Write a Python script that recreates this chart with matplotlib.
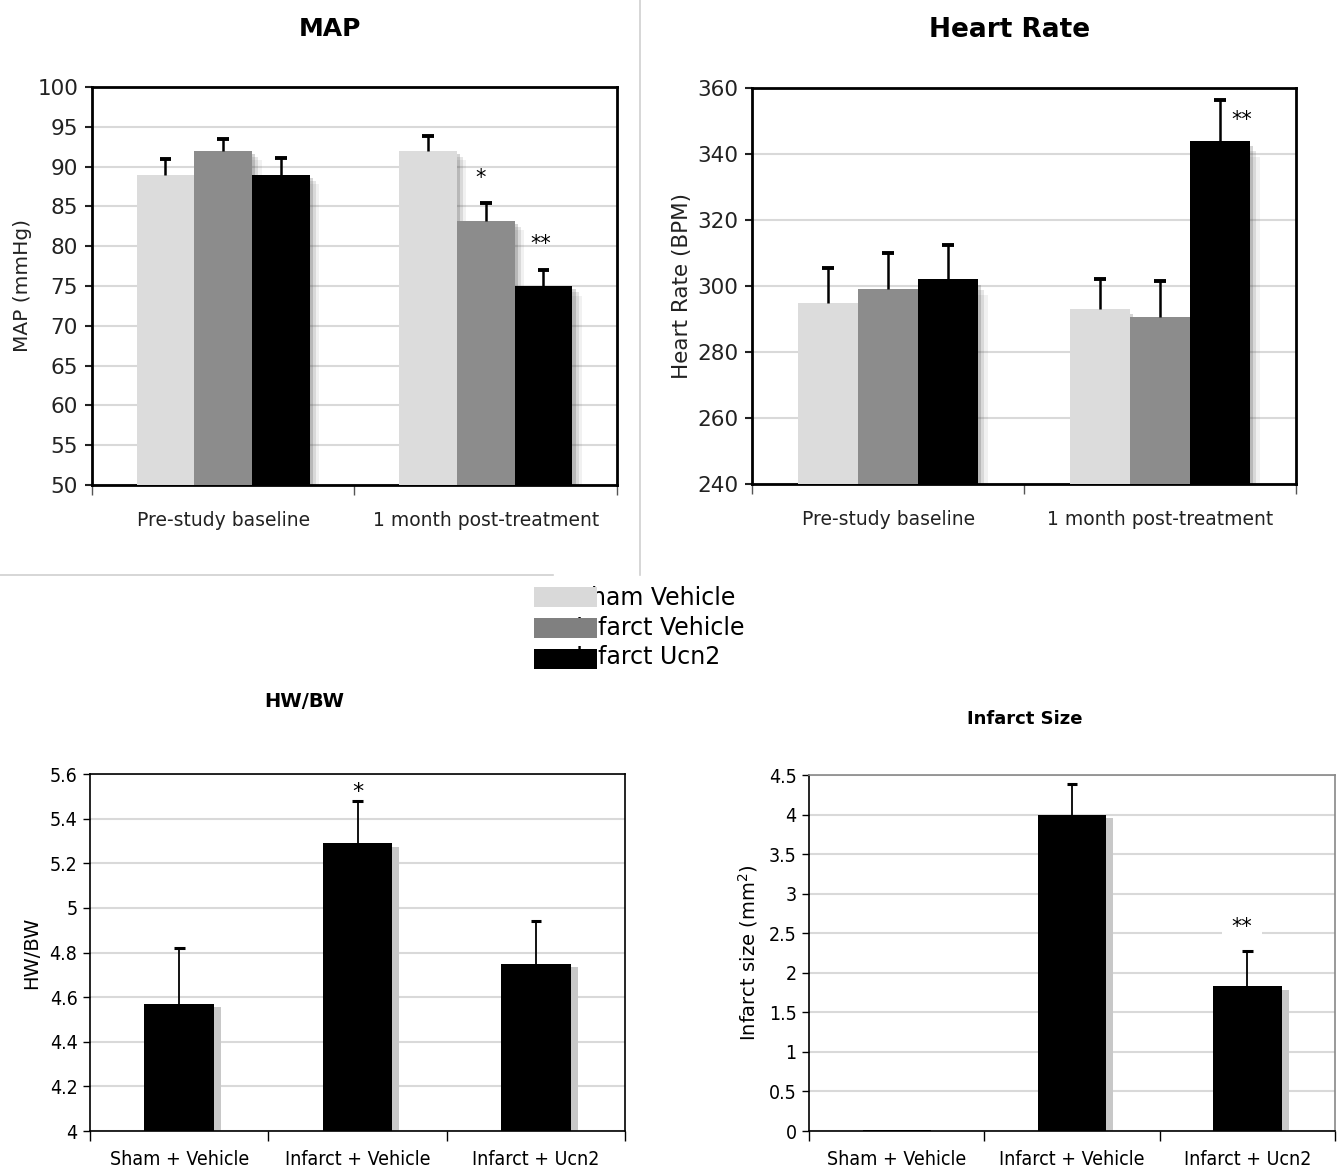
import matplotlib.pyplot as plt
from matplotlib.lines import Line2D
from matplotlib.patches import Rectangle
import numpy as np

# data
groups = ['Sham Vehicle', 'Infarct Vehicle', 'Infarct Ucn2']
colors = ['#dcdcdc', '#8c8c8c', '#000000']
timepoints = ['Pre-study baseline', '1 month post-treatment']

map_vals = [[89, 92], [92, 83.2], [89, 75]]          # per group: pre, post
map_err = [[2.0, 1.8], [1.5, 2.2], [2.1, 2.0]]
map_stars = [('*', 1, 1, -0.02, 88.6), ('**', 2, 1, -0.01, 80.3)]   # text, group, timepoint, dx, y

hr_vals = [[295, 293], [299, 290.5], [302, 344]]
hr_err = [[10.5, 9.0], [11.0, 11.0], [10.5, 12.5]]
hr_stars = [('**', 2, 1, 0.08, 350.2)]

treat_labels = ['Sham + Vehicle', 'Infarct + Vehicle', 'Infarct + Ucn2']
hwbw_vals = [4.57, 5.29, 4.75]
hwbw_err = [0.25, 0.19, 0.19]
infarct_vals = [0.01, 4.0, 1.83]
infarct_err = [0.0, 0.39, 0.44]

fig = plt.figure(figsize=(13.43, 11.74), dpi=100)


def up_errorbars(ax, x, v, e, cap, lw, cap_lw):
    v = np.asarray(v, dtype=float)
    e = np.asarray(e, dtype=float)
    keep = e > 0
    ax.vlines(x[keep], v[keep], v[keep] + e[keep], color='black', linewidth=lw, zorder=4)
    ax.hlines(v[keep] + e[keep], x[keep] - cap / 2, x[keep] + cap / 2, color='black',
              linewidth=cap_lw, zorder=4)


def grouped_panel(ax, vals, err, stars, ylim, step, title, title_x, ylabel, ylabel_size, title_size):
    width = 0.22
    x = np.arange(len(timepoints))
    for i, (v, e, c) in enumerate(zip(vals, err, colors)):
        pos = x + (i - 1) * width
        # soft drop shadow
        for k, a in enumerate([0.25, 0.15, 0.08]):
            ax.bar(pos + 0.012 * (k + 1), np.array(v) - ylim[0] - 0.4 * (k + 1) * step / 5,
                   width, bottom=ylim[0], color='#555555', alpha=a, zorder=2, linewidth=0)
        ax.bar(pos, np.array(v) - ylim[0], width, bottom=ylim[0], color=c, zorder=3)
        up_errorbars(ax, pos, v, e, 0.045, 1.8, 2.8)
    for txt, g, t, dx, y in stars:
        ax.text(t + (g - 1) * width + dx, y, txt, ha='center', va='center', fontsize=15, zorder=5)
    ax.set_xlim(-0.5, len(timepoints) - 0.5)
    ax.set_ylim(ylim)
    ax.set_yticks(np.arange(ylim[0], ylim[1] + step / 2, step))
    ax.yaxis.grid(True, color='#d9d9d9', linewidth=1.5, zorder=0)
    ax.set_axisbelow(True)
    ax.set_xticks(np.arange(-0.5, len(timepoints)))
    ax.set_xticklabels([])
    ax.set_xticks(x, minor=True)
    ax.set_xticklabels(timepoints, minor=True, fontsize=13.5, color='#222222')
    ax.tick_params(axis='x', which='minor', length=0, pad=19)
    ax.tick_params(axis='x', which='major', length=7, width=1, color='#555555')
    ax.tick_params(axis='y', labelsize=15.5, length=5, width=1.5, pad=5, colors='#222222')
    for s in ax.spines.values():
        s.set_linewidth(2)
        s.set_color('black')
    ax.set_title(title, fontsize=title_size, fontweight='bold', x=title_x, pad=37)
    ax.set_ylabel(ylabel, fontsize=ylabel_size, labelpad=4, color='#222222')


def single_panel(ax, vals, err, ylim, step, title, title_x, title_size, ylabel, title_pad):
    width = 0.39
    x = np.arange(len(treat_labels))
    ax.bar(x + 0.04, np.array(vals) - ylim[0] - 0.01 * (ylim[1] - ylim[0]), width,
           bottom=ylim[0], color='#c8c8c8', zorder=2, linewidth=0)
    ax.bar(x, np.array(vals) - ylim[0], width, bottom=ylim[0], color='black', zorder=3)
    up_errorbars(ax, x, vals, err, 0.06, 1.3, 2.2)
    ax.set_xlim(-0.5, len(treat_labels) - 0.5)
    ax.set_ylim(ylim)
    ticks = np.round(np.arange(ylim[0], ylim[1] + step / 2, step), 2)
    ax.set_yticks(ticks)
    ax.set_yticklabels(['%g' % t for t in ticks], fontstretch='condensed')
    ax.yaxis.grid(True, color='#d9d9d9', linewidth=1.5, zorder=0)
    ax.set_axisbelow(True)
    ax.set_xticks(np.arange(-0.5, len(treat_labels)))
    ax.set_xticklabels([])
    ax.set_xticks(x, minor=True)
    ax.set_xticklabels(treat_labels, minor=True, fontsize=14, fontstretch='condensed')
    ax.tick_params(axis='x', which='minor', length=0, pad=14)
    ax.tick_params(axis='x', which='major', length=7, width=1)
    ax.tick_params(axis='y', labelsize=14, length=5, width=1, pad=4)
    for s in ax.spines.values():
        s.set_linewidth(1.2)
    ax.set_title(title, fontsize=title_size, fontweight='bold', x=title_x, pad=title_pad)
    ax.set_ylabel(ylabel, fontsize=14, labelpad=6)


ax1 = fig.add_axes([0.0685, 0.5869, 0.3909, 0.3390])
grouped_panel(ax1, map_vals, map_err, map_stars, (50, 100), 5, 'MAP', 0.453,
              'MAP (mmHg)', 14.5, 18)

ax2 = fig.add_axes([0.5600, 0.5877, 0.4051, 0.3373])
grouped_panel(ax2, hr_vals, hr_err, hr_stars, (240, 360), 20, 'Heart Rate', 0.474,
              'Heart Rate (BPM)', 15.5, 19)

ax3 = fig.add_axes([0.0670, 0.0366, 0.3984, 0.3041])
single_panel(ax3, hwbw_vals, hwbw_err, (4, 5.6), 0.2, 'HW/BW', 0.40, 14, 'HW/BW', 48)
ax3.text(1, 5.52, '*', ha='center', va='center', fontsize=16)

ax4 = fig.add_axes([0.6024, 0.0366, 0.3917, 0.3032])
single_panel(ax4, infarct_vals, infarct_err, (0, 4.5), 0.5, 'Infarct Size', 0.41, 13,
             'Infarct size (mm$^2$)', 37)
ax4.text(1.97, 2.58, '**', ha='center', va='center', fontsize=15,
         bbox=dict(facecolor='white', edgecolor='none', pad=7), zorder=5)
for side in ['top', 'right']:
    ax4.spines[side].set_color('#888888')

# separators between the top panels
fig.add_artist(Line2D([640 / 1343, 640 / 1343], [1, 1 - 575 / 1174],
                      color='#d0d0d0', linewidth=1.2))
fig.add_artist(Line2D([0, 553 / 1343], [1 - 575 / 1174, 1 - 575 / 1174],
                      color='#d0d0d0', linewidth=1.2))

# legend: colour boxes drawn over the start of the labels
legend_colors = ['#d9d9d9', '#808080', '#000000']
text_rows = [598, 628, 657]
patch_tops = [587, 618, 649]
for g, c, ty, py in zip(groups, legend_colors, text_rows, patch_tops):
    fig.text(576 / 1343, 1 - ty / 1174, g, fontsize=17, ha='left', va='center', zorder=1)
    fig.add_artist(Rectangle((534 / 1343, 1 - (py + 20) / 1174), 63 / 1343, 20 / 1174,
                             transform=fig.transFigure, facecolor=c, edgecolor='none',
                             zorder=5))

fig.savefig('out.png', dpi=100)
